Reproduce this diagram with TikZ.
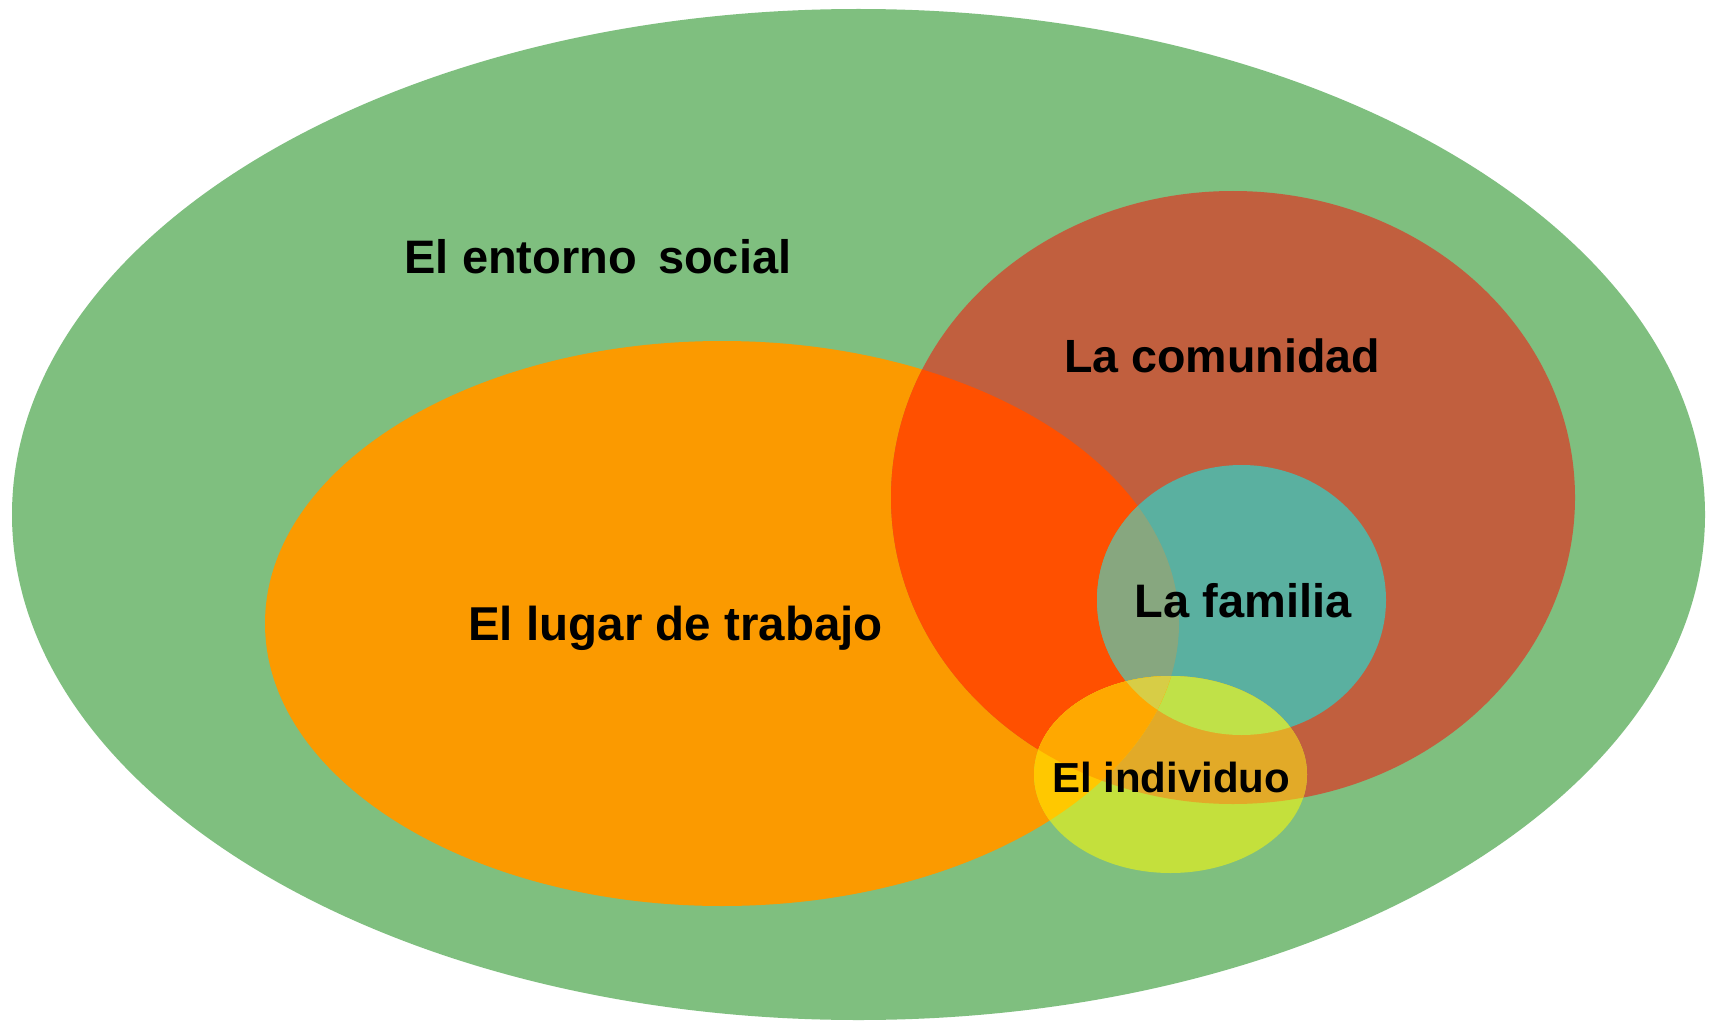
\documentclass[tikz,border=0pt]{standalone}
\usepackage{fontspec}
\setmainfont{Liberation Sans}
\definecolor{cGreen}{RGB}{127,191,127}
\definecolor{cOrange}{RGB}{251,154,0}
\definecolor{cRed}{RGB}{193,95,62}
\definecolor{cOrRed}{RGB}{255,80,0}
\definecolor{cTeal}{RGB}{90,176,160}
\definecolor{cTealOr}{RGB}{135,167,127}
\definecolor{cYellow}{RGB}{196,224,60}
\definecolor{cYelRed}{RGB}{226,170,40}
\definecolor{cYelOr}{RGB}{255,200,0}
\definecolor{cYelOrRed}{RGB}{255,168,0}
\definecolor{cYelTeal}{RGB}{192,225,72}
\definecolor{cYelTealOr}{RGB}{215,205,70}
\tikzset{
  greenP/.style={insert path={(858.5,514.5) ellipse [x radius=846.5pt, y radius=505.5pt]}},
  orangeP/.style={insert path={(722,623.5) ellipse [x radius=457pt, y radius=282.5pt]}},
  redP/.style={insert path={(1233,497.5) ellipse [x radius=342pt, y radius=306.5pt]}},
  tealP/.style={insert path={(1241.5,600) ellipse [x radius=144.5pt, y radius=135pt]}},
  yellowP/.style={insert path={(1170.5,774.5) ellipse [x radius=136.5pt, y radius=98.5pt]}},
  lbl/.style={font=\bfseries, text=black, inner sep=0pt, anchor=base}
}
\begin{document}
\begin{tikzpicture}[x=1pt,y=-1pt]
\fill[white] (0,0) rectangle (1715,1024);
\useasboundingbox (0,0) rectangle (1715,1024);
% outer
\fill[cGreen, greenP];
% workplace
\fill[cOrange, orangeP];
% community
\fill[cRed, redP];
\begin{scope}
  \clip[orangeP];
  \fill[cOrRed, redP];
\end{scope}
% family
\fill[cTeal, tealP];
\begin{scope}
  \clip[orangeP];
  \fill[cTealOr, tealP];
\end{scope}
% individual
\fill[cYellow, yellowP];
\begin{scope}
  \clip[redP];
  \fill[cYelRed, yellowP];
\end{scope}
\begin{scope}
  \clip[tealP];
  \fill[cYelTeal, yellowP];
\end{scope}
\begin{scope}
  \clip[orangeP];
  \fill[cYelOr, yellowP];
  \begin{scope}
    \clip[redP];
    \fill[cYelOrRed, yellowP];
    \clip[tealP];
    \fill[cYelTealOr, yellowP];
  \end{scope}
\end{scope}
% labels
\node[lbl, font=\bfseries\fontsize{47}{56}\selectfont] (social) at (598,273) {El entorno\hspace{0.45em}social};
\node[lbl, font=\bfseries\fontsize{46.6}{55}\selectfont] (comunidad) at (1222,372) {La comunidad};
\node[lbl, font=\bfseries\fontsize{47.5}{56}\selectfont] (trabajo) at (675.5,640) {El lugar de trabajo};
\node[lbl, font=\bfseries\fontsize{47}{56}\selectfont] (familia) at (1243,617) {La familia};
\node[lbl, font=\bfseries\fontsize{42}{50}\selectfont] (individuo) at (1171,792) {El individuo};
\end{tikzpicture}
\end{document}
